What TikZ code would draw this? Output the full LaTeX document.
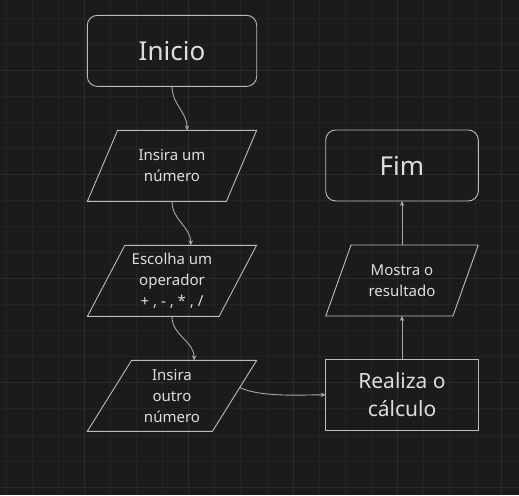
\documentclass[tikz,border=0pt]{standalone}
\usepackage{fontspec}
\setmainfont{Noto Sans}
\usepackage{tikz}
\usetikzlibrary{shapes.geometric, arrows.meta, positioning}
\usepackage{xcolor}
\definecolor{bgcol}{HTML}{1B1B1B}
\definecolor{gridminor}{HTML}{232323}
\definecolor{gridmajor}{HTML}{2B2B2B}
\definecolor{strokecol}{HTML}{BDBDBD}
\definecolor{textcol}{HTML}{DEDEDE}
\definecolor{arrowcol}{HTML}{A8A8A8}

\tikzset{
	box/.style={draw=strokecol, line width=0.9pt, text=textcol, align=center, inner sep=0pt, outer sep=0pt, minimum height=71pt},
	startend/.style={box, rounded corners=10pt, font=\fontsize{26}{30}\selectfont},
	process/.style={box, font=\fontsize{21}{27.6}\selectfont},
	io/.style={box, trapezium, trapezium stretches=true, font=\fontsize{15}{21}\selectfont},
	flow/.style={draw=arrowcol, line width=0.9pt, -{Stealth[length=5pt,width=4.5pt]}}
}

\begin{document}
\begin{tikzpicture}[x=1pt,y=1pt]
	\useasboundingbox (0,0) rectangle (519,495);
	\fill[bgcol] (0,0) rectangle (519,495);
	\draw[gridminor,line width=1pt,step=26.04pt,shift={(6.6,7.9)}] (-6.6,-7.9) grid (512.4,487.1);
	\draw[gridmajor,line width=1pt,step=104.16pt,shift={(84.72,7.9)}] (-84.72,-7.9) grid (434.28,487.1);

	\node[startend, minimum width=169.4pt] (inicio) at (172,444.15) {Inicio};
	\node[io, trapezium left angle=60, trapezium right angle=120, minimum width=169.4pt, below=44pt of inicio] (numA) {Insira um\\número};
	\node[io, trapezium left angle=60, trapezium right angle=120, minimum width=169.4pt, below=44pt of numA] (oper) {Escolha um\\operador\\+ , - , * , /};
	\node[io, trapezium left angle=60, trapezium right angle=120, minimum width=169.4pt, below=44pt of oper] (numB) {Insira\\outro\\número};

	\node[startend, minimum width=152.6pt] (fim) at (402,329.5) {Fim};
	\node[io, trapezium left angle=62.5, trapezium right angle=117.5, minimum width=152.6pt, below=44pt of fim] (mostra) {Mostra o\\resultado};
	\node[process, minimum width=152.6pt, below=43.3pt of mostra] (calculo) {Realiza o\\cálculo};

	\draw[flow] (inicio.south) to[out=-90,in=90] (numA.top side);
	\draw[flow] (numA.south) to[out=-90,in=90] (oper.top side);
	\draw[flow] (oper.south) to[out=-90,in=90] (numB.top side);
	\draw[flow] (numB.7) to[out=-25,in=180,looseness=0.7] (calculo.west);
	\draw[flow] (calculo.north) -- (mostra.south);
	\draw[flow] (mostra.north) -- (fim.south);
\end{tikzpicture}
\end{document}
